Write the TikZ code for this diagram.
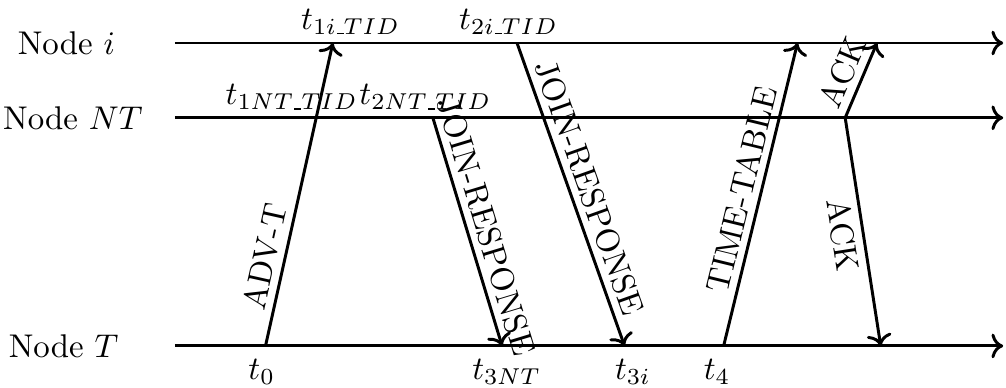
\documentclass[tikz,border=0pt]{standalone}
\usetikzlibrary{arrows.meta, positioning}

\newcommand{\tus}{\mbox{\scriptsize\kern.06em\vbox{\hrule width .3em}}}

\begin{document}
\begin{tikzpicture}[
            every node/.style={font=\normalsize},
            timeline/.style={
                    ->,
                    line width=0.9pt
                },
            msg/.style={
                    ->,
                    line width=0.9pt
                },
            lbl/.style={
                    midway,
                    sloped,
                    inner sep=2pt
                }
            ]

            \useasboundingbox (0,0) rectangle (10.76,4.14);

            % Node names
            \node (ni) at (0.71,3.68) {Node $i$};
            \node (nnt) at (0.78,2.88) {Node $NT$};
            \node (nt) at (0.68,0.44) {Node $T$};

            % Time lines
            \coordinate (ia) at (1.87,3.68);
            \coordinate (ib) at (10.73,3.68);
            \coordinate (nta) at (1.87,2.88);
            \coordinate (ntb) at (10.73,2.88);
            \coordinate (ta) at (1.87,0.44);
            \coordinate (tb) at (10.73,0.44);

            \draw [timeline] (ia) -- (ib);
            \draw [timeline] (nta) -- (ntb);
            \draw [timeline] (ta) -- (tb);

            % Event points
            \coordinate (t0) at (2.84,0.44);
            \coordinate (t1i) at (3.56,3.68);
            \coordinate (t2nt) at (4.63,2.88);
            \coordinate (t3nt) at (5.37,0.44);
            \coordinate (t2i) at (5.53,3.68);
            \coordinate (t3i) at (6.68,0.44);
            \coordinate (t4) at (7.74,0.44);
            \coordinate (t5i) at (8.53,3.68);
            \coordinate (ack) at (9.04,2.88);
            \coordinate (ack1) at (9.38,3.68);
            \coordinate (ack2) at (9.42,0.44);

            % Messages
            \draw [msg] (t0) -- node [lbl, above, pos=0.28] {ADV-T} (t1i);
            \draw [msg] (t2nt) -- node [lbl, above] {JOIN-RESPONSE} (t3nt);
            \draw [msg] (t2i) -- node [lbl, above] {JOIN-RESPONSE} (t3i);
            \draw [msg] (t4) -- node [lbl, above] {TIME-TABLE} (t5i);
            \draw [msg] (ack) -- node [lbl, above] {ACK} (ack1);
            \draw [msg] (ack) -- node [lbl, below] {ACK} (ack2);

            % Time labels
            \node (lt1i) at (3.75,3.91) {$t_{1i\tus TID}$};
            \node (lt2i) at (5.44,3.91) {$t_{2i\tus TID}$};
            \node (lt1nt) at (3.12,3.10) {$t_{1NT\tus TID}$};
            \node (lt2nt) at (4.55,3.10) {$t_{2NT\tus TID}$};
            \node (lt0) at (2.80,0.16) {$t_0$};
            \node (lt3nt) at (5.42,0.16) {$t_{3NT}$};
            \node (lt3i) at (6.77,0.16) {$t_{3i}$};
            \node (lt4) at (7.67,0.16) {$t_4$};

        \end{tikzpicture}
\end{document}
